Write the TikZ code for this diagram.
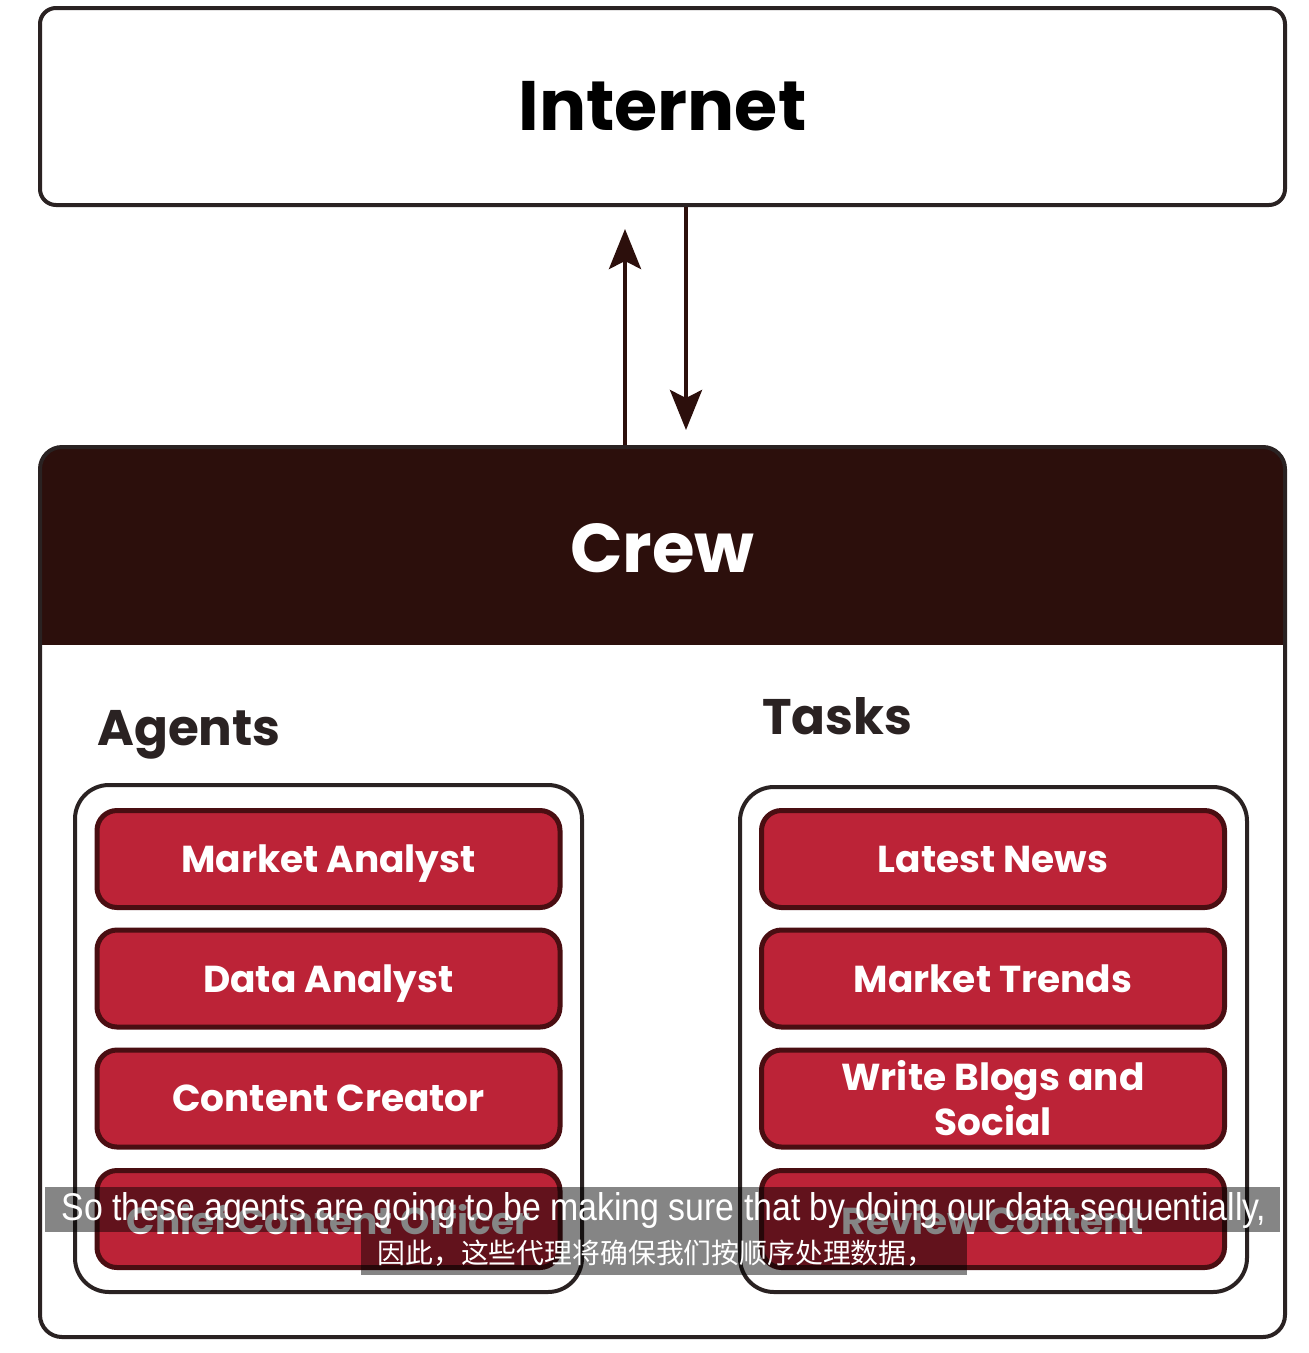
\documentclass[tikz,border=0pt]{standalone}
\usepackage{fontspec}
\setmainfont{Poppins}
\newfontfamily\subfont{Liberation Sans}
\newfontfamily\cjkfont{Noto Sans CJK SC}
\usetikzlibrary{arrows.meta}

\definecolor{crewdark}{HTML}{2C0F0C}
\definecolor{boxred}{HTML}{BC2337}
\definecolor{boxedge}{HTML}{4A0E12}
\definecolor{lineink}{HTML}{2A2222}

\tikzset{
  bigbox/.style={draw=lineink, line width=4, rounded corners=16, fill=white},
  holder/.style={draw=lineink, line width=4, rounded corners=34},
  redbox/.style={draw=boxedge, fill=boxred, line width=5, rounded corners=20,
    minimum width=463, minimum height=97, inner sep=0, text=white, align=center,
    text depth=0, font=\fontsize{37.5}{45}\selectfont\bfseries},
  heading/.style={font=\fontsize{50}{56}\selectfont\bfseries, text=lineink,
    anchor=base west, inner sep=0},
  flow/.style={draw=crewdark, line width=4,
    -{Stealth[length=40, width=32, inset=8]}},
  subbar/.style={fill=black, opacity=0.48},
}

\begin{document}
\begin{tikzpicture}[x=1pt, y=-1pt]
\useasboundingbox (0,0) rectangle (1309,1353);
\fill[white] (0,0) rectangle (1309,1353);

% Internet box
\node[bigbox, minimum width=1245, minimum height=197,
  font=\fontsize{70}{76}\selectfont\bfseries, text=black] (inet) at (662.5,106.5) {Internet};

% Crew container with dark header band
\begin{scope}
  \clip[rounded corners=22] (40,447) rectangle (1285,1337);
  \fill[crewdark] (40,447) rectangle (1285,645);
\end{scope}
\node[draw=lineink, line width=4, rounded corners=22, minimum width=1245,
  minimum height=890, inner sep=0] (crew) at (662.5,892) {};
\node[font=\fontsize{69}{75}\selectfont\bfseries, text=white] (crewtitle) at (662.5,548) {Crew};

% Traffic between the crew and the internet
\draw[flow, shorten >=22] ([xshift=-37.5]crew.north) -- ([xshift=-37.5]inet.south);
\draw[flow, shorten >=15] ([xshift=23.5]inet.south) -- ([xshift=23.5]crew.north);

% Column headings
\node[heading] (agents) at (97,745) {Agents};
\node[heading] (tasks) at (762,734) {Tasks};

% Column holders
\node[holder, minimum width=507, minimum height=507, inner sep=0] (aholder) at (328.5,1038.5) {};
\node[holder, minimum width=507, minimum height=505, inner sep=0] (tholder) at (993.5,1039.5) {};

% Agents
\node[redbox] (a1) at (328.5,859) {Market Analyst};
\node[redbox] (a2) at (328.5,978.5) {Data Analyst};
\node[redbox] (a3) at (328.5,1098.5) {Content Creator};
\node[redbox] (a4) at (328.5,1219) {Chief Content Officer};

% Tasks
\node[redbox] (t1) at (993,859) {Latest News};
\node[redbox] (t2) at (993,978.5) {Market Trends};
\node[redbox, text depth={}] (t3) at (993,1098.5) {Write Blogs and\\Social};
\node[redbox] (t4) at (993,1219) {Review Content};

% Caption bars
\fill[subbar] (45,1187) rectangle (1280,1232);
\fill[subbar] (361,1232) rectangle (967,1275);
\node[text=white, inner sep=0] (sub1) at (664,1210)
  {\resizebox{1205pt}{28pt}{\subfont So these agents are going to be making sure that by doing our data sequentially,}};
\node[text=white, inner sep=0] (sub2) at (656,1253)
  {\resizebox{557pt}{!}{\cjkfont 因此，这些代理将确保我们按顺序处理数据，}};
\end{tikzpicture}
\end{document}
